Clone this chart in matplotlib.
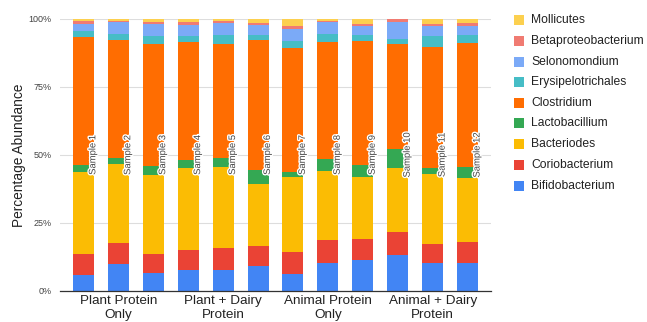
import matplotlib
matplotlib.use("Agg")
import matplotlib.pyplot as plt
import matplotlib.patheffects as pe
from matplotlib.patches import Rectangle
import numpy as np

plt.rcParams['font.family'] = ['Liberation Sans', 'DejaVu Sans']

samples = [f"Sample {i}" for i in range(1, 13)]
groups = ["Plant Protein\nOnly", "Plant + Dairy\nProtein", "Animal Protein\nOnly", "Animal + Dairy\nProtein"]

# Stacked from bottom to top
taxa = ["Bifidobacterium", "Coriobacterium", "Bacteriodes", "Lactobacillium",
        "Clostridium", "Erysipelotrichales", "Selonomondium", "Betaproteobacterium", "Mollicutes"]

bifidobacterium    = [6.0, 9.8, 6.7, 7.6, 7.7, 9.2, 6.4, 10.4, 11.3, 13.1, 10.4, 10.4]
coriobacterium     = [7.6, 8.0, 6.9, 7.5, 8.0, 7.3, 8.1, 8.2, 7.7, 8.6, 7.0, 7.7]
bacteriodes        = [30.0, 28.8, 28.9, 30.2, 29.9, 22.7, 27.2, 25.3, 23.0, 23.4, 25.5, 23.3]
lactobacillium     = [2.8, 2.4, 3.5, 2.9, 3.2, 5.2, 2.1, 4.5, 4.3, 7.2, 2.1, 4.3]
clostridium        = [46.8, 43.3, 44.7, 43.3, 41.9, 47.8, 45.4, 43.1, 45.4, 38.4, 44.5, 45.3]
erysipelotrichales = [2.1, 2.1, 3.1, 2.0, 3.4, 1.9, 2.7, 2.9, 2.3, 1.8, 4.0, 3.0]
selonomondium      = [2.8, 4.3, 4.2, 4.3, 4.3, 3.7, 4.5, 4.5, 3.4, 6.4, 3.9, 3.2]
betaproteobacterium = [0.9, 0.6, 0.9, 0.9, 0.9, 0.5, 0.8, 0.4, 0.6, 1.1, 0.6, 1.1]
mollicutes         = [1.0, 0.7, 1.1, 1.3, 0.7, 1.7, 2.8, 0.7, 2.0, 0.0, 2.0, 1.7]

series = [bifidobacterium, coriobacterium, bacteriodes, lactobacillium, clostridium,
          erysipelotrichales, selonomondium, betaproteobacterium, mollicutes]
colors = ["#4285F4", "#EA4335", "#FBBC04", "#34A853", "#FF6D01",
          "#46BDC6", "#7BAAF7", "#F07B72", "#FCD04F"]

W, H = 647, 322
fig = plt.figure(figsize=(W / 100, H / 100), dpi=100)
ax = fig.add_axes([60 / W, 31 / H, 431 / W, 272.3 / H])

x = np.arange(len(samples))
bottom = np.zeros(len(samples))
for vals, col in zip(series, colors):
    v = np.array(vals)
    ax.bar(x, v, bottom=bottom, width=0.6, color=col, zorder=2, linewidth=0)
    bottom += v

for i, name in enumerate(samples):
    ax.text(i + 0.27, 50, name, rotation=90, ha='center', va='center',
            fontsize=6.8, color='#444444', zorder=3,
            path_effects=[pe.withStroke(linewidth=2, foreground='white')])

ax.set_xlim(-0.67, 11.67)
ax.set_ylim(0, 100)
ax.set_yticks([0, 25, 50, 75, 100])
ax.set_yticklabels(["0%", "25%", "50%", "75%", "100%"], fontsize=6.5, color='#444444')
ax.yaxis.grid(True, color='#dddddd', linewidth=0.8, zorder=0)
ax.tick_params(axis='y', length=0, pad=6)
ax.tick_params(axis='x', length=0, pad=3)
ax.set_xticks([1, 4, 7, 10])
ax.set_xticklabels(groups, fontsize=9.7, color='#222222', linespacing=1.2)
for s in ['top', 'right', 'left']:
    ax.spines[s].set_visible(False)
ax.spines['bottom'].set_color('#333333')
ax.spines['bottom'].set_linewidth(0.9)
ax.spines['bottom'].set_zorder(4)
ax.set_ylabel("Percentage Abundance", fontsize=9.9, color='#222222', labelpad=2)

# Legend, top entry first
legend_y = [20, 40.7, 61.7, 82.3, 102.7, 123.3, 143.7, 164.7, 185.7]
for yy, name, col in zip(legend_y, taxa[::-1], colors[::-1]):
    fig.add_artist(Rectangle((514 / W, (H - yy - 5) / H), 10 / W, 10 / H,
                             transform=fig.transFigure, color=col, linewidth=0))
    fig.text(531 / W, (H - yy) / H, name, fontsize=8.7, color='#222222',
             va='center', ha='left')

fig.savefig("out.png", dpi=100)
